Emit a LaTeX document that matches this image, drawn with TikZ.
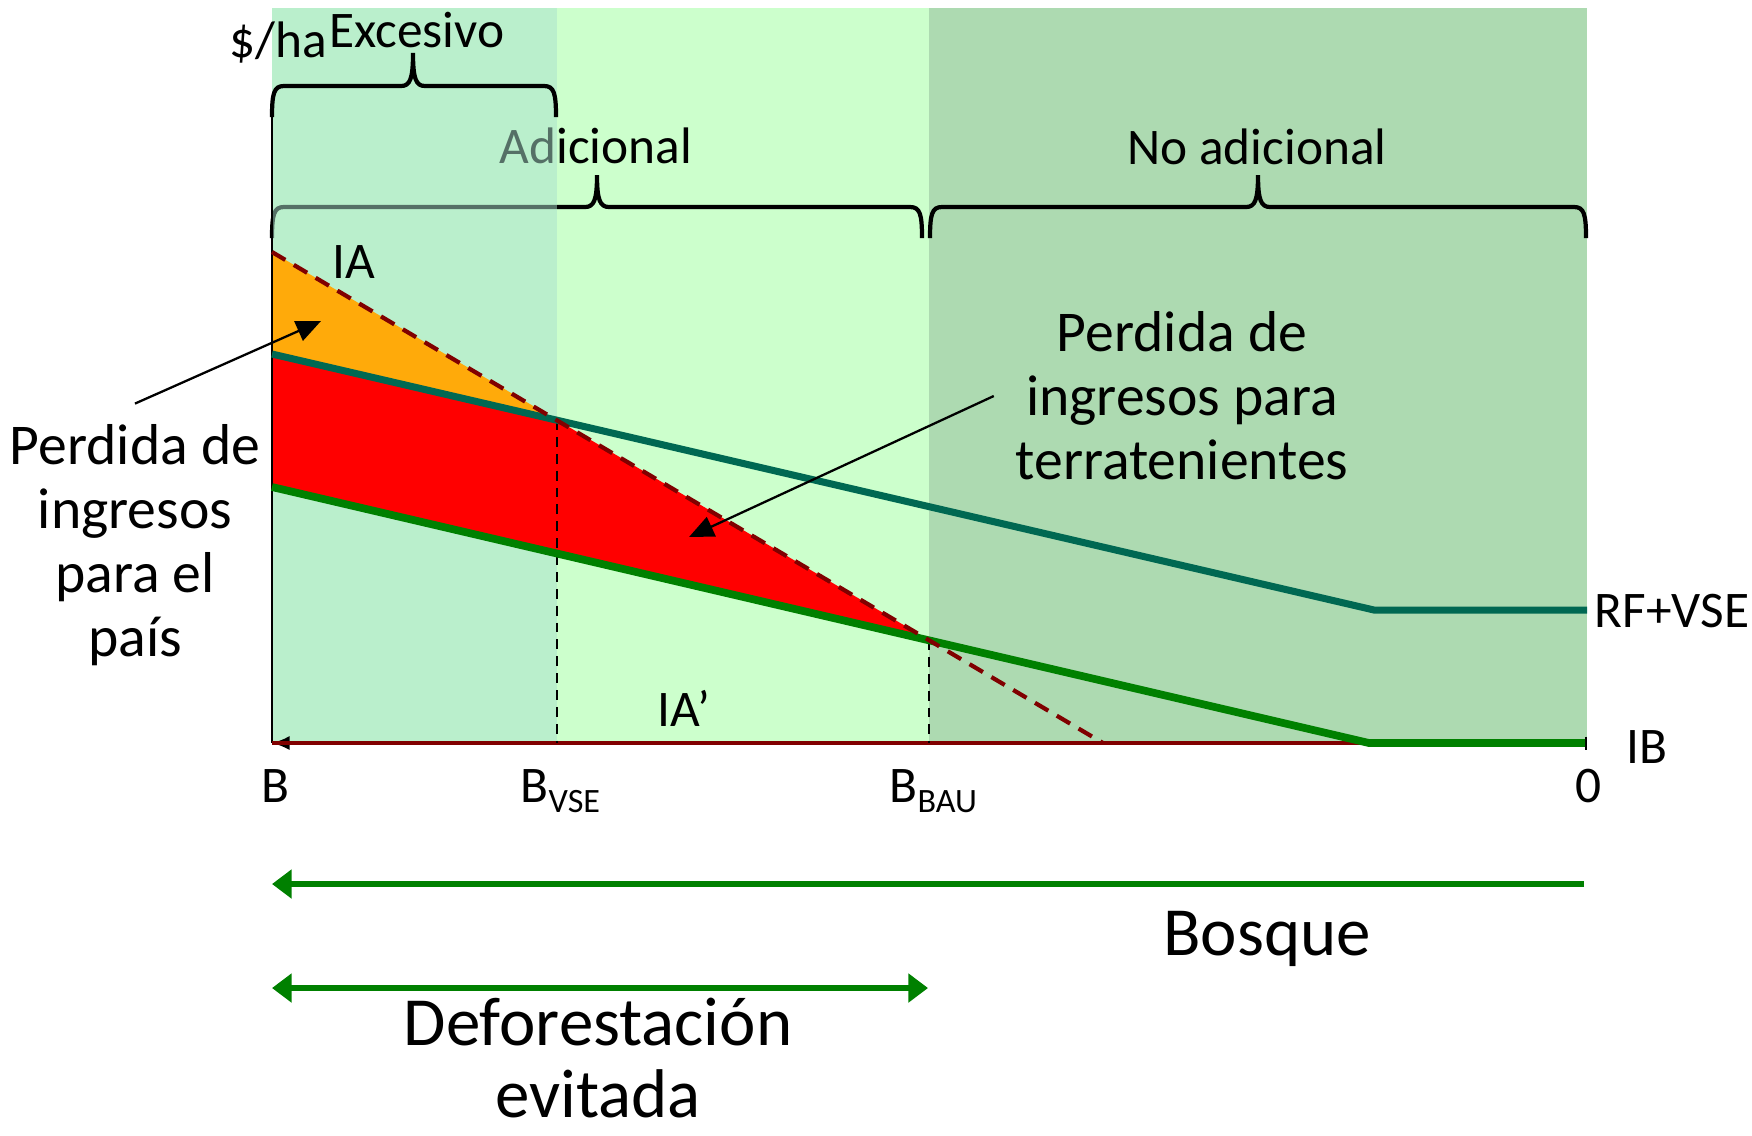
\documentclass[tikz,border=0pt]{standalone}
\usepackage{fontspec}
\setmainfont{Carlito}
\usetikzlibrary{arrows.meta}
\definecolor{excesivo}{RGB}{170,225,205}
\definecolor{adicional}{RGB}{204,255,204}
\definecolor{noadicional}{RGB}{173,218,177}
\definecolor{tealline}{RGB}{0,104,82}
\definecolor{ibgreen}{RGB}{0,128,0}
\definecolor{iaorange}{RGB}{255,170,10}
\definecolor{darkred}{RGB}{128,0,0}
\begin{document}
\begin{tikzpicture}[x=0.01cm,y=-0.01cm,
    lbl/.style={font=\fontsize{14.6}{17}\selectfont,inner sep=0pt},
    losstext/.style={font=\fontsize{16.4}{18.2}\selectfont,align=center,inner sep=0pt},
    bigtext/.style={font=\fontsize{19.6}{20.6}\selectfont,align=center,inner sep=0pt},
    bracket/.style={line width=1.2pt},
    curveRF/.style={line width=2pt,color=tealline},
    curveIB/.style={line width=2.2pt,color=ibgreen},
    curveIA/.style={line width=1.2pt,color=darkred,dash pattern=on 4.4pt off 2.8pt},
    guide/.style={line width=0.55pt,dash pattern=on 2.8pt off 2pt},
    pointer/.style={line width=0.65pt,-{Triangle[length=7pt,width=6pt]}},
    span/.style={line width=1.5pt,color=ibgreen}]
            \useasboundingbox (0,0) rectangle (1752,1135);
            \draw (272,743) coordinate (B);
            \draw (557,743) coordinate (BV);
            \draw (929,743) coordinate (BB);
            \draw (1587,743) coordinate (Z);
            \draw (272,117) coordinate (Y);
            \draw (272,252) coordinate (IA1);
            \draw (1103,743) coordinate (IA2);
            \draw (272,354) coordinate (RF1);
            \draw (1374,610) coordinate (RF2);
            \draw (1587,610) coordinate (RF3);
            \draw (272,487) coordinate (IB1);
            \draw (1369,743) coordinate (IB2);
            \draw (1585,743) coordinate (IB3);
            \draw (557,420) coordinate (HV);
            \draw (929,640) coordinate (HB);
            \draw (321,321) coordinate (PC);
            \draw (689,537) coordinate (PT);
            % zonas
            \fill[color=adicional] (272,8) rectangle (BB);
            \fill[color=noadicional] (929,8) rectangle (Z);
            \draw[bracket] (272,238) .. controls (272,214) and (274,207) .. (284,207) -- (585,207)
                .. controls (594,207) and (597,200) .. (597,175) .. controls (597,200) and (600,207) .. (609,207)
                -- (910,207) .. controls (920,207) and (922,214) .. (922,238);
            \node[lbl,anchor=base] (adic) at (596,163) {Adicional};
            \fill[color=excesivo,opacity=0.5] (272,8) rectangle (BV);
            % perdidas
            \fill[color=iaorange] (IA1) -- (HV) -- (RF1) -- cycle;
            \fill[color=red] (RF1) -- (HV) -- (HB) -- (IB1) -- cycle;
            % ejes
            \draw[line width=0.6pt] (Y) -- (B);
            \draw[line width=0.6pt,{Latex[length=5pt,width=4pt]}-{Bar[width=3.7pt]}] (B) -- (Z);
            \draw[line width=1.1pt,color=darkred] (B) -- (IB2);
            \draw[guide] (HV) -- (BV);
            \draw[guide] (HB) -- (BB);
            \draw[curveRF] (RF1) -- (RF2) -- (RF3);
            \draw[curveIB] (IB1) -- (IB2) -- (IB3);
            \draw[curveIA] (IA1) -- (IA2);
            \draw[bracket] (272,117) .. controls (272,93) and (274,86) .. (284,86) -- (401,86)
                .. controls (410,86) and (413,79) .. (413,53) .. controls (413,79) and (416,86) .. (425,86)
                -- (544,86) .. controls (554,86) and (556,93) .. (556,117);
            \draw[bracket] (930,238) .. controls (930,214) and (932,207) .. (942,207) -- (1246,207)
                .. controls (1255,207) and (1258,200) .. (1258,175) .. controls (1258,200) and (1261,207) .. (1270,207)
                -- (1574,207) .. controls (1584,207) and (1586,214) .. (1586,238);
            % textos
            \node[lbl,anchor=base] (unit) at (278,57) {\$/ha};
            \node[lbl,anchor=base] (exc) at (417,47) {Excesivo};
            \node[lbl,anchor=base] (noadic) at (1257,164) {No adicional};
            \node[lbl,anchor=base] (ia) at (354,278) {IA};
            \node[lbl,anchor=base] (iap) at (684,726) {IA’};
            \node[lbl,anchor=west] (rf) at (1594,611) {RF+VSE};
            \node[lbl,anchor=west] (ib) at (1626,747) {IB};
            \node[lbl,anchor=base] (lb) at (275,802) {B};
            \node[lbl,anchor=base] (lz) at (1588,802) {0};
            \node[lbl,anchor=base west] (lbv) at (520,802) {B\raisebox{-3.1pt}{\fontsize{9.7}{10}\selectfont VSE}};
            \node[lbl,anchor=base west] (lbb) at (889,802) {B\raisebox{-3.1pt}{\fontsize{9.7}{10}\selectfont BAU}};
            \node[losstext] (lossC) at (135,545) {Perdida de\\ingresos\\para el\\país};
            \node[losstext] (lossT) at (1182,396) {Perdida de\\ingresos para\\terratenientes};
            \node[bigtext,anchor=base] (bosque) at (1267,955) {Bosque};
            \node[bigtext] (defo) at (598,1058) {Deforestación\\evitada};
            % flechas
            \draw[pointer] ([yshift=5.7pt]lossC.north) -- (PC);
            \draw[pointer] ([xshift=-6pt]lossT.west) -- (PT);
            \draw (1584,884) coordinate (F1);
            \draw (272,884) coordinate (F2);
            \draw (272,988) coordinate (D1);
            \draw (928,988) coordinate (D2);
            \draw[span,-{Triangle[length=5.6pt,width=8pt]}] (F1) -- (F2);
            \draw[span,{Triangle[length=5.6pt,width=8pt]}-{Triangle[length=5.6pt,width=8pt]}] (D1) -- (D2);
        \end{tikzpicture}
\end{document}
